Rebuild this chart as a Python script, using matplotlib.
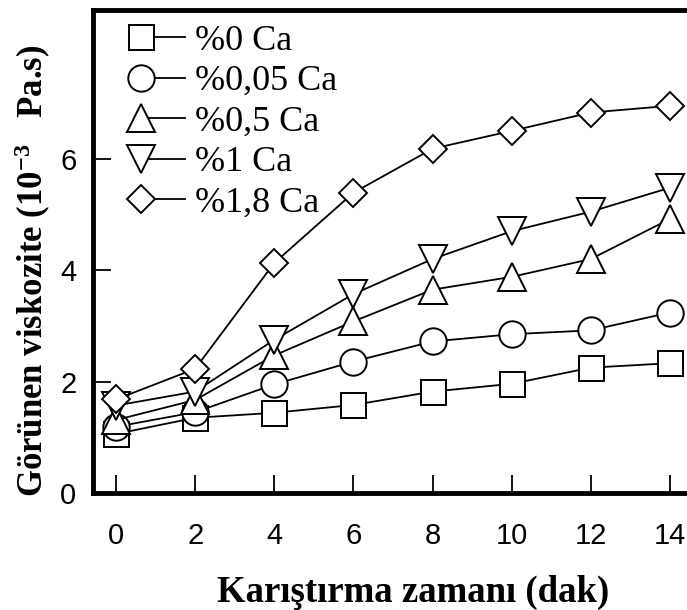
import matplotlib
matplotlib.use("Agg")
import matplotlib.pyplot as plt
import numpy as np
from matplotlib.legend_handler import HandlerLine2DCompound

# Karistirma zamani (dak)
zaman = [0, 2, 4, 6, 8, 10, 12, 14]

# Gorunen viskozite (10^-3 Pa.s)
ca_0 = [1.06, 1.35, 1.44, 1.58, 1.82, 1.96, 2.25, 2.33]
ca_005 = [1.19, 1.45, 1.95, 2.36, 2.72, 2.85, 2.92, 3.24]
ca_05 = [1.31, 1.67, 2.47, 3.08, 3.65, 3.88, 4.20, 4.92]
ca_1 = [1.57, 1.82, 2.75, 3.57, 4.20, 4.70, 5.05, 5.48]
ca_18 = [1.68, 2.23, 4.13, 5.39, 6.18, 6.50, 6.83, 6.95]

etiketler = ["%0 Ca", "%0,05 Ca", "%0,5 Ca", "%1 Ca", "%1,8 Ca"]
seriler = [ca_0, ca_005, ca_05, ca_1, ca_18]
isaretler = ["s", "o", "^", "v", "D"]
boyutlar = [18, 19, 20, 20, 14]

serif = ["Liberation Serif", "DejaVu Serif"]
dar = ["Liberation Sans Narrow", "Liberation Sans", "DejaVu Sans"]

plt.rcParams["mathtext.fontset"] = "custom"
plt.rcParams["mathtext.rm"] = "Liberation Serif:bold"
plt.rcParams["mathtext.bf"] = "Liberation Serif:bold"
plt.rcParams["mathtext.default"] = "rm"


class IsaretSolda(HandlerLine2DCompound):
    # isaret solda, cizgi sagda
    def get_xdata(self, legend, xdescent, ydescent, width, height, fontsize):
        x0 = -xdescent + 0.45 * width
        return np.array([x0, -xdescent + width]), np.array([x0])


fig = plt.figure(figsize=(6.87, 6.10), dpi=100)
ax = fig.add_axes([0.1354, 0.1918, 0.8744, 0.7918])

for y, lab, m, ms in zip(seriler, etiketler, isaretler, boyutlar):
    ax.plot(zaman, y, color="black", lw=1.3, marker=m, ms=ms,
            mfc="white", mec="black", mew=1.4, label=lab, clip_on=False)

ax.set_xlim(-0.581, 14.6)
ax.set_ylim(0, 8.67)
ax.set_xticks(zaman)
ax.set_yticks([0, 2, 4, 6])

for s in ax.spines.values():
    s.set_linewidth(3.5)

ax.tick_params(axis="both", direction="in", length=13, width=1.3)
ax.tick_params(axis="x", pad=21)
ax.tick_params(axis="y", pad=12)
for t in ax.get_xticklabels() + ax.get_yticklabels():
    t.set_fontfamily(dar)
    t.set_fontsize(21)

ax.set_xlabel("Karıştırma zamanı (dak)", family=serif, fontweight="bold",
              fontsize=26.5, va="top")
ax.xaxis.set_label_coords(0.533, -0.17)
ax.set_ylabel("Görünen viskozite (10$^{-3}$   Pa.s)", family=serif,
              fontweight="bold", fontsize=25, va="center")
ax.yaxis.set_label_coords(-0.10, 0.46)

leg = ax.legend(loc="upper left", bbox_to_anchor=(-0.004, 1.0), frameon=False,
                prop={"family": serif, "size": 26}, handlelength=2.2,
                handletextpad=0.3, labelspacing=0.2, borderaxespad=0.0,
                numpoints=1, handler_map={plt.Line2D: IsaretSolda()})

fig.savefig("out.png", dpi=100)
